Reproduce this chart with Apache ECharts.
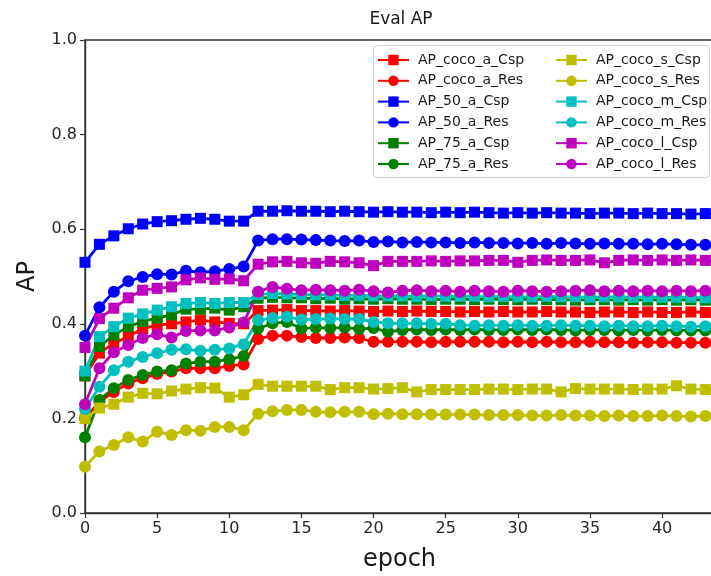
<!DOCTYPE html>
<html>
<head>
<meta charset="utf-8">
<script src="https://cdn.jsdelivr.net/npm/echarts@6/dist/echarts.min.js"></script>
<style>html,body{margin:0;padding:0;background:#fff}#c{width:711px;height:576px}</style>
</head>
<body>
<div id="c"></div>
<script>
var epochs = [0,1,2,3,4,5,6,7,8,9,10,11,12,13,14,15,16,17,18,19,20,21,22,23,24,25,26,27,28,29,30,31,32,33,34,35,36,37,38,39,40,41,42,43,44];
var xTicks = [0,5,10,15,20,25,30,35,40];
var yTicks = [0.0,0.2,0.4,0.6,0.8,1.0];

var AP_coco_a_Csp = [0.29,0.338,0.359,0.373,0.39,0.397,0.400,0.404,0.408,0.404,0.401,0.400,0.428,
 0.429,0.430,0.428,0.428,0.427,0.428,0.427,0.426,0.427,0.426,0.427,0.426,0.426,0.425,0.426,0.425,0.426,0.425,0.425,0.426,0.425,0.425,0.424,0.425,0.425,0.424,0.425,0.424,0.424,0.425,0.424,0.424];
var AP_coco_a_Res = [0.20,0.235,0.256,0.274,0.285,0.294,0.299,0.306,0.306,0.306,0.311,0.314,0.368,
 0.375,0.375,0.372,0.370,0.370,0.371,0.370,0.362,0.362,0.362,0.362,0.361,0.362,0.362,0.362,0.362,0.361,0.362,0.361,0.362,0.361,0.361,0.362,0.361,0.361,0.360,0.361,0.361,0.360,0.360,0.360,0.360];
var AP_50_a_Csp = [0.53,0.568,0.586,0.601,0.611,0.616,0.618,0.621,0.623,0.621,0.617,0.617,0.638,
 0.638,0.639,0.638,0.638,0.637,0.638,0.637,0.636,0.637,0.636,0.636,0.635,0.636,0.635,0.636,0.635,0.634,0.635,0.634,0.635,0.634,0.634,0.633,0.634,0.634,0.633,0.634,0.633,0.633,0.632,0.633,0.633];
var AP_50_a_Res = [0.375,0.435,0.468,0.49,0.499,0.505,0.504,0.512,0.509,0.511,0.516,0.521,0.576,
 0.579,0.579,0.578,0.577,0.576,0.575,0.576,0.573,0.574,0.572,0.573,0.572,0.572,0.571,0.572,0.571,0.571,0.570,0.571,0.569,0.571,0.570,0.569,0.570,0.569,0.569,0.568,0.569,0.568,0.567,0.567,0.567];
var AP_75_a_Csp = [0.29,0.352,0.376,0.394,0.405,0.412,0.419,0.431,0.431,0.433,0.429,0.436,0.454,
 0.456,0.455,0.455,0.453,0.454,0.452,0.453,0.452,0.453,0.452,0.452,0.451,0.452,0.452,0.451,0.452,0.451,0.451,0.452,0.451,0.451,0.450,0.451,0.451,0.450,0.451,0.450,0.451,0.450,0.451,0.450,0.450];
var AP_75_a_Res = [0.16,0.239,0.264,0.281,0.292,0.299,0.302,0.316,0.32,0.32,0.325,0.332,0.39,
 0.401,0.404,0.390,0.392,0.391,0.392,0.389,0.391,0.383,0.387,0.388,0.387,0.388,0.387,0.388,0.387,0.387,0.388,0.387,0.388,0.387,0.386,0.387,0.387,0.386,0.387,0.386,0.387,0.386,0.386,0.386,0.386];
var AP_coco_s_Csp = [0.20,0.222,0.23,0.245,0.253,0.252,0.258,0.262,0.265,0.264,0.245,0.25,0.272,
 0.268,0.268,0.268,0.268,0.261,0.265,0.265,0.262,0.263,0.265,0.256,0.261,0.261,0.261,0.261,0.262,0.262,0.261,0.262,0.262,0.256,0.263,0.262,0.262,0.262,0.261,0.262,0.262,0.269,0.262,0.261,0.262];
var AP_coco_s_Res = [0.098,0.130,0.144,0.160,0.151,0.172,0.165,0.175,0.174,0.182,0.182,0.175,0.210,
 0.215,0.218,0.218,0.214,0.213,0.214,0.214,0.209,0.210,0.209,0.209,0.208,0.208,0.208,0.208,0.207,0.207,0.207,0.206,0.206,0.207,0.206,0.206,0.205,0.206,0.205,0.205,0.206,0.205,0.204,0.205,0.204];
var AP_coco_m_Csp = [0.30,0.373,0.394,0.412,0.421,0.429,0.436,0.443,0.445,0.443,0.445,0.445,0.462,
 0.464,0.463,0.462,0.461,0.461,0.460,0.460,0.459,0.459,0.459,0.458,0.459,0.458,0.458,0.458,0.457,0.458,0.457,0.457,0.458,0.457,0.457,0.456,0.457,0.457,0.456,0.457,0.456,0.456,0.456,0.455,0.456];
var AP_coco_m_Res = [0.22,0.267,0.302,0.32,0.33,0.338,0.345,0.346,0.343,0.345,0.348,0.357,0.408,
 0.412,0.415,0.409,0.410,0.411,0.410,0.410,0.404,0.401,0.401,0.401,0.400,0.400,0.397,0.396,0.397,0.396,0.397,0.396,0.396,0.397,0.396,0.396,0.395,0.396,0.395,0.395,0.396,0.395,0.394,0.395,0.394];
var AP_coco_l_Csp = [0.35,0.411,0.433,0.455,0.471,0.475,0.478,0.493,0.497,0.494,0.495,0.491,0.526,
 0.531,0.532,0.529,0.528,0.532,0.531,0.529,0.523,0.532,0.532,0.532,0.533,0.532,0.533,0.533,0.534,0.534,0.530,0.534,0.535,0.534,0.534,0.535,0.529,0.534,0.535,0.534,0.535,0.534,0.535,0.534,0.533];
var AP_coco_l_Res = [0.23,0.306,0.34,0.355,0.37,0.378,0.371,0.385,0.386,0.386,0.392,0.403,0.468,
 0.478,0.474,0.471,0.472,0.471,0.470,0.472,0.469,0.466,0.470,0.471,0.469,0.470,0.468,0.470,0.469,0.468,0.470,0.469,0.468,0.469,0.470,0.471,0.469,0.470,0.469,0.470,0.469,0.470,0.469,0.470,0.469];

var seriesDefs = [
  ['AP_coco_a_Csp', AP_coco_a_Csp, '#ff0000', 'rect'],
  ['AP_coco_a_Res', AP_coco_a_Res, '#ff0000', 'circle'],
  ['AP_50_a_Csp', AP_50_a_Csp, '#0000ff', 'rect'],
  ['AP_50_a_Res', AP_50_a_Res, '#0000ff', 'circle'],
  ['AP_75_a_Csp', AP_75_a_Csp, '#008000', 'rect'],
  ['AP_75_a_Res', AP_75_a_Res, '#008000', 'circle'],
  ['AP_coco_s_Csp', AP_coco_s_Csp, '#bfbf00', 'rect'],
  ['AP_coco_s_Res', AP_coco_s_Res, '#bfbf00', 'circle'],
  ['AP_coco_m_Csp', AP_coco_m_Csp, '#00bfbf', 'rect'],
  ['AP_coco_m_Res', AP_coco_m_Res, '#00bfbf', 'circle'],
  ['AP_coco_l_Csp', AP_coco_l_Csp, '#bf00bf', 'rect'],
  ['AP_coco_l_Res', AP_coco_l_Res, '#bf00bf', 'circle']
];

var series = seriesDefs.map(function (d) {
  return {
    name: d[0], type: 'line',
    data: epochs.map(function (e, i) { return [e, d[1][i]]; }),
    symbol: d[3], symbolSize: d[3] === 'rect' ? 11 : 12,
    showSymbol: true, showAllSymbol: true, clip: true,
    lineStyle: { color: d[2], width: 2.8 },
    itemStyle: { color: d[2] },
    emphasis: { disabled: true }
  };
});

var names = seriesDefs.map(function (d) { return d[0]; });
var FONT = 'DejaVu Sans';
var legendCommon = {
  orient: 'vertical', top: 53, padding: 0, itemWidth: 31, itemHeight: 13, itemGap: 6.8,
  selectedMode: false,
  textStyle: { fontFamily: FONT, fontSize: 14, color: '#1a1a1a', padding: [0, 0, 0, 4] }
};

var chart = echarts.init(document.getElementById('c'), null, { renderer: 'canvas' });
chart.setOption({
  animation: false,
  backgroundColor: '#fff',
  title: {
    text: 'Eval AP', left: 396, top: 6, textAlign: 'center',
    textStyle: { fontFamily: FONT, fontSize: 17, fontWeight: 'normal', color: '#1a1a1a' }
  },
  grid: { left: 85, top: 40, bottom: 63, right: -3, outerBoundsMode: 'none', containLabel: false,
    show: true, borderColor: '#333', borderWidth: 1.4, backgroundColor: 'transparent' },
  graphic: [{
    type: 'rect', z: -1, left: 373, top: 45,
    shape: { width: 336, height: 132, r: 4 },
    style: { fill: 'rgba(255,255,255,0.85)', stroke: '#d0d0d0', lineWidth: 1 }
  }],
  legend: [
    Object.assign({}, legendCommon, { left: 377, data: names.slice(0, 6) }),
    Object.assign({}, legendCommon, { left: 555, data: names.slice(6, 12) })
  ],
  xAxis: {
    type: 'value', min: 0, max: 43.6, interval: 5,
    name: 'epoch', nameLocation: 'middle', nameGap: 35,
    nameTextStyle: { fontFamily: FONT, fontSize: 24, color: '#1a1a1a' },
    axisLine: { show: true, lineStyle: { color: '#333', width: 1.4 } },
    axisTick: { show: true, length: 5, lineStyle: { color: '#333', width: 1.2 },
      customValues: xTicks },
    axisLabel: { fontFamily: FONT, fontSize: 16, color: '#262626', margin: 8,
      customValues: xTicks,
      formatter: function (v) { return String(v); } },
    splitLine: { show: false }
  },
  yAxis: {
    type: 'value', min: 0, max: 1, interval: 0.2,
    name: 'AP', nameLocation: 'middle', nameGap: 45,
    nameTextStyle: { fontFamily: FONT, fontSize: 24, color: '#1a1a1a' },
    axisLine: { show: true, lineStyle: { color: '#333', width: 1.4 } },
    axisTick: { show: true, length: 5, lineStyle: { color: '#333', width: 1.2 } },
    axisLabel: { fontFamily: FONT, fontSize: 16, color: '#262626', margin: 8,
      formatter: function (v) { return v.toFixed(1); } },
    splitLine: { show: false }
  },
  series: series
});
</script>
</body>
</html>
